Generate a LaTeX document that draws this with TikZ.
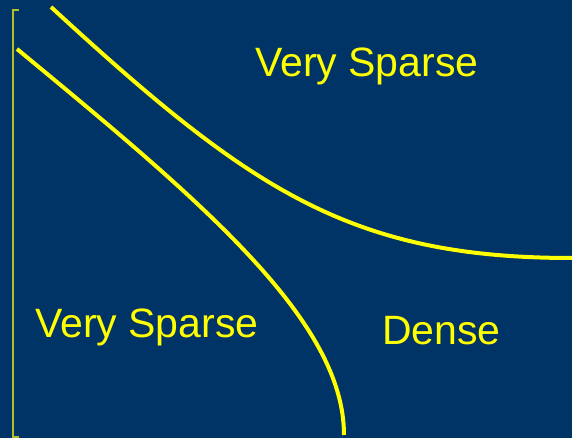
\documentclass[tikz,border=0pt]{standalone}
\usepackage{fontspec}
\setmainfont{Liberation Sans}
\definecolor{bgblue}{HTML}{003366}
\definecolor{lineyellow}{HTML}{FFFF00}
\definecolor{axisyellow}{HTML}{B4BE28}
\begin{document}
\begin{tikzpicture}[x=1pt,y=-1pt,
  curve/.style={draw=lineyellow,line width=4pt},
  label/.style={text=lineyellow,font=\fontsize{41}{48}\selectfont,inner sep=0pt,anchor=base west},
  axis/.style={draw=axisyellow,line width=1.2pt}]
\fill[bgblue] (0,0) rectangle (572,438);
\useasboundingbox (0,0) rectangle (572,438);
% left bracket line
\coordinate (at) at (19,10);
\coordinate (ab) at (19,437);
\draw[axis] (at) -- (13,10) -- (13,437) -- (ab);
% upper boundary
\coordinate (u0) at (51,7);
\coordinate (u1) at (572,258);
\draw[curve] (u0) .. controls (250,190) and (350,258) .. (u1);
% lower boundary
\coordinate (l0) at (17,49);
\coordinate (l1) at (344,435);
\draw[curve] (l0) .. controls (200,200) and (344,320) .. (l1);
% labels
\node[label] (vs1) at (255,77) {Very Sparse};
\node[label] (vs2) at (35,337) {Very Sparse};
\node[label] (dn) at (382,344) {Dense};
\end{tikzpicture}
\end{document}
